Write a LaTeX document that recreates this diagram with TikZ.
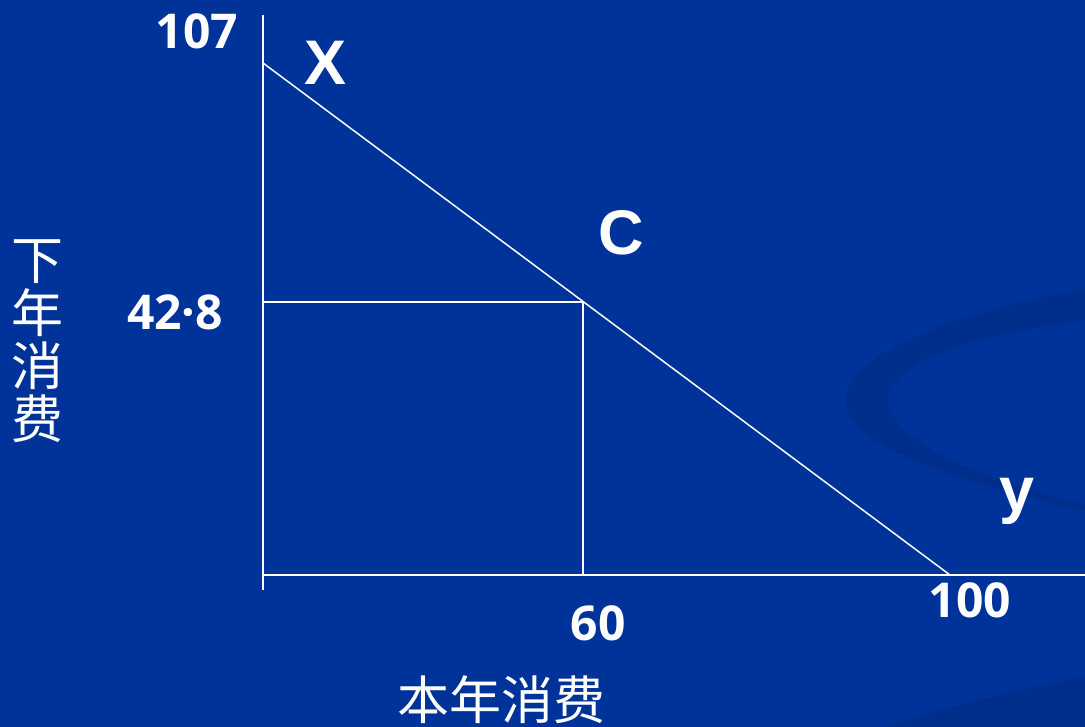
\documentclass[tikz,border=0pt]{standalone}
\usepackage{fontspec}
\newfontfamily\cjk{Noto Sans CJK SC}
\newfontfamily\numfont{Open Sans}
\newfontfamily\letfont{Liberation Sans}
\definecolor{bgblue}{RGB}{0,51,153}
\definecolor{swoosh}{RGB}{0,46,140}
\begin{document}
\begin{tikzpicture}[x=1pt,y=-1pt,
  axis/.style={draw=white,line width=1.8pt},
  guide/.style={draw=white,line width=1.5pt},
  numlbl/.style={text=white,inner sep=0pt,font=\numfont\bfseries\fontsize{48}{52}\selectfont},
  letlbl/.style={text=white,inner sep=0pt,font=\letfont\bfseries\fontsize{63}{70}\selectfont},
  cjklbl/.style={text=white,inner sep=0pt,font=\cjk\fontsize{52}{53}\selectfont}]
\fill[bgblue] (0,0) rectangle (1085,727);
\useasboundingbox (0,0) rectangle (1085,727);
\begin{scope}
\clip (0,0) rectangle (1085,727);
\fill[swoosh] (1090,288) .. controls (950,312) and (830,360) .. (847,410)
  .. controls (865,455) and (980,487) .. (1090,512)
  -- (1090,506) .. controls (990,482) and (905,448) .. (890,410)
  .. controls (875,368) and (960,336) .. (1090,320) -- cycle;
\fill[swoosh] (880,730) .. controls (950,705) and (1020,688) .. (1090,676)
  -- (1090,730) -- cycle;
\end{scope}
% coordinates
\coordinate (O) at (263,575);
\coordinate (ytop) at (263,15);
\coordinate (ybot) at (263,590);
\coordinate (xend) at (1085,575);
\coordinate (X) at (263,63);
\coordinate (Y) at (950,575);
\coordinate (C) at (583,302);
\coordinate (Cy) at (263,302);
\coordinate (Cx) at (583,575);
% axes
\draw[axis] (ybot) -- (ytop);
\draw[axis] (O) -- (xend);
% budget line
\draw[guide] (X) -- (Y);
\draw[guide] (Cy) -- (C) -- (Cx);
% labels
\node[numlbl] (l107) at (197,31) {107};
\node[numlbl] (l428) at (175,312) {42·8};
\node[numlbl] (l60) at (598,623) {60};
\node[numlbl] (l100) at (970,600) {100};
\node[letlbl] (lX) at (326,63) {X};
\node[letlbl] (lC) at (621,233) {C};
\node[letlbl] (ly) at (1017,501) {y};
\node[cjklbl] (xlab) at (501,700) {本年消费};
\node[cjklbl,align=center] (ylab) at (38,341) {下\\年\\消\\费};
\end{tikzpicture}
\end{document}
